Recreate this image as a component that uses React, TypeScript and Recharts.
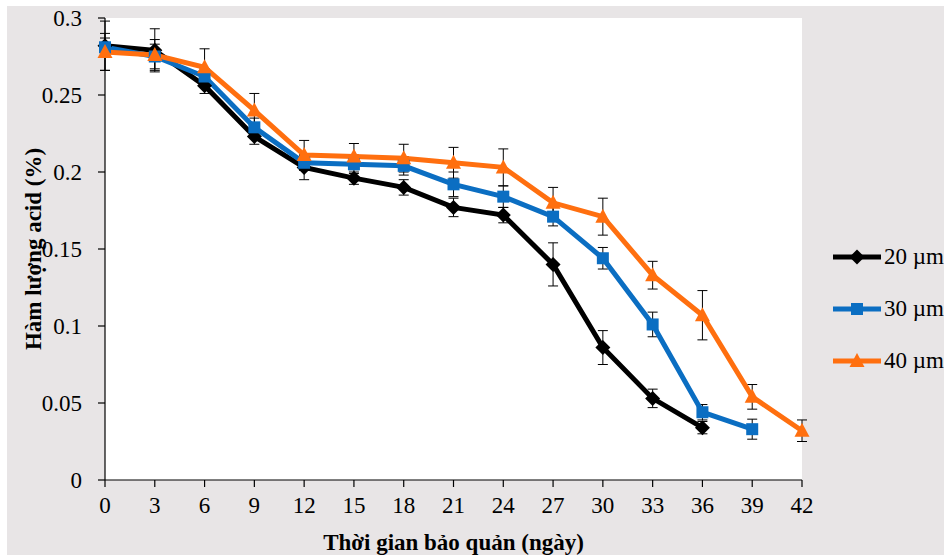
import {
  CartesianGrid,
  ErrorBar,
  Legend,
  Line,
  LineChart,
  XAxis,
  YAxis,
} from 'recharts'

const days = [0, 3, 6, 9, 12, 15, 18, 21, 24, 27, 30, 33, 36, 39, 42]
const yTicks = [0, 0.05, 0.1, 0.15, 0.2, 0.25, 0.3]

const acid20 = [0.282, 0.279, 0.256, 0.223, 0.203, 0.196, 0.19, 0.177, 0.172, 0.14, 0.086, 0.053, 0.034]
const acid30 = [0.281, 0.275, 0.262, 0.229, 0.206, 0.205, 0.204, 0.192, 0.184, 0.171, 0.144, 0.101, 0.044, 0.033]
const acid40 = [0.278, 0.276, 0.268, 0.24, 0.211, 0.21, 0.209, 0.206, 0.203, 0.18, 0.171, 0.133, 0.107, 0.054, 0.032]

const err20 = [0.016, 0.014, 0.005, 0.005, 0.008, 0.004, 0.005, 0.006, 0.005, 0.014, 0.011, 0.006, 0.004]
const err30 = [0.006, 0.008, 0.005, 0.006, 0.005, 0.006, 0.006, 0.008, 0.007, 0.006, 0.007, 0.008, 0.005, 0.0065]
const err40 = [0.012, 0.01, 0.012, 0.011, 0.0095, 0.0085, 0.009, 0.01, 0.012, 0.01, 0.012, 0.009, 0.016, 0.008, 0.007]

const rows = days.map((day, i) => ({
  day,
  s20: acid20[i] ?? null,
  s30: acid30[i] ?? null,
  s40: acid40[i] ?? null,
  e20: err20[i] ?? null,
  e30: err30[i] ?? null,
  e40: err40[i] ?? null,
}))

const BLACK = '#000000'
const BLUE = '#0B6EC2'
const ORANGE = '#FF6F0F'
const FONT = '"Liberation Serif", "Times New Roman", serif'

const series = [
  { key: 's20', err: 'e20', label: '20 µm', color: BLACK, shape: 'diamond' },
  { key: 's30', err: 'e30', label: '30 µm', color: BLUE, shape: 'square' },
  { key: 's40', err: 'e40', label: '40 µm', color: ORANGE, shape: 'triangle' },
]

function markerPath(shape: string, cx: number, cy: number) {
  if (shape === 'diamond') {
    return `M${cx} ${cy - 7.5}L${cx + 7.5} ${cy}L${cx} ${cy + 7.5}L${cx - 7.5} ${cy}Z`
  }
  if (shape === 'square') {
    return `M${cx - 6} ${cy - 6}H${cx + 6}V${cy + 6}H${cx - 6}Z`
  }
  return `M${cx} ${cy - 8}L${cx + 7.5} ${cy + 6}L${cx - 7.5} ${cy + 6}Z`
}

function makeDot(shape: string, color: string) {
  return (props: any) => {
    const { cx, cy, index } = props
    if (cx == null || cy == null || props.value == null) return <g key={`d-${shape}-${index}`} />
    return <path key={`d-${shape}-${index}`} d={markerPath(shape, cx, cy)} fill={color} />
  }
}

function LegendBox() {
  return (
    <div style={{ fontFamily: FONT, fontSize: 23, color: '#000', whiteSpace: 'nowrap' }}>
      {series.map((item) => (
        <div key={item.label} style={{ height: 52, display: 'flex', alignItems: 'center' }}>
          <svg width={50} height={20} style={{ marginRight: 2 }}>
            <line x1={1} y1={10} x2={49} y2={10} stroke={item.color} strokeWidth={5} />
            <path d={markerPath(item.shape, 25, 10)} fill={item.color} />
          </svg>
          <span>{item.label}</span>
        </div>
      ))}
    </div>
  )
}

export default function App() {
  const tickStyle = { fill: '#000', fontSize: 23, fontFamily: FONT }
  return (
    <div
      style={{
        position: 'fixed',
        left: 0,
        top: 0,
        width: 944,
        height: 560,
        background: '#ffffff',
        overflow: 'hidden',
      }}
    >
      <div
        style={{
          position: 'absolute',
          left: 7,
          top: 6,
          width: 937,
          height: 549,
          background: '#e8e5e6',
          overflow: 'hidden',
        }}
      >
        <LineChart width={937} height={549} data={rows} margin={{ top: 12, right: 142, left: 0, bottom: 0 }}>
          <CartesianGrid fill="#ffffff" horizontal={false} vertical={false} stroke="none" />
          <XAxis
            dataKey="day"
            type="number"
            domain={[0, 42]}
            ticks={days}
            interval={0}
            height={75}
            tick={tickStyle}
            tickSize={7}
            tickMargin={10}
            axisLine={{ stroke: '#000', strokeWidth: 1.2 }}
            tickLine={{ stroke: '#000', strokeWidth: 1.2 }}
            label={{
              value: 'Thời gian bảo quản (ngày)',
              position: 'insideBottom',
              offset: 5,
              style: { fill: '#000', fontSize: 23, fontWeight: 'bold', fontFamily: FONT },
            }}
          />
          <YAxis
            type="number"
            domain={[0, 0.3]}
            ticks={yTicks}
            interval={0}
            width={98}
            tick={tickStyle}
            tickSize={7}
            tickMargin={16}
            axisLine={{ stroke: '#000', strokeWidth: 1.2 }}
            tickLine={{ stroke: '#000', strokeWidth: 1.2 }}
            label={{
              value: 'Hàm lượng acid (%)',
              angle: -90,
              position: 'insideLeft',
              offset: 26,
              style: { fill: '#000', fontSize: 23, fontWeight: 'bold', fontFamily: FONT, textAnchor: 'middle' },
            }}
          />
          <Legend
            layout="vertical"
            align="center"
            verticalAlign="middle"
            content={() => <LegendBox />}
            wrapperStyle={{ left: 825, top: 225, width: 160 }}
          />
          {/* error bars first, so the thick lines sit on top of them */}
          {series.map((s) => (
            <Line
              key={`err-${s.key}`}
              dataKey={s.key}
              stroke="none"
              dot={false}
              activeDot={false}
              legendType="none"
              isAnimationActive={false}
            >
              <ErrorBar dataKey={s.err} direction="y" width={5} stroke="#000" strokeWidth={1} />
            </Line>
          ))}
          {series.map((s) => (
            <Line
              key={s.key}
              dataKey={s.key}
              stroke={s.color}
              strokeWidth={5}
              dot={makeDot(s.shape, s.color)}
              activeDot={false}
              isAnimationActive={false}
            />
          ))}
        </LineChart>
      </div>
    </div>
  )
}
